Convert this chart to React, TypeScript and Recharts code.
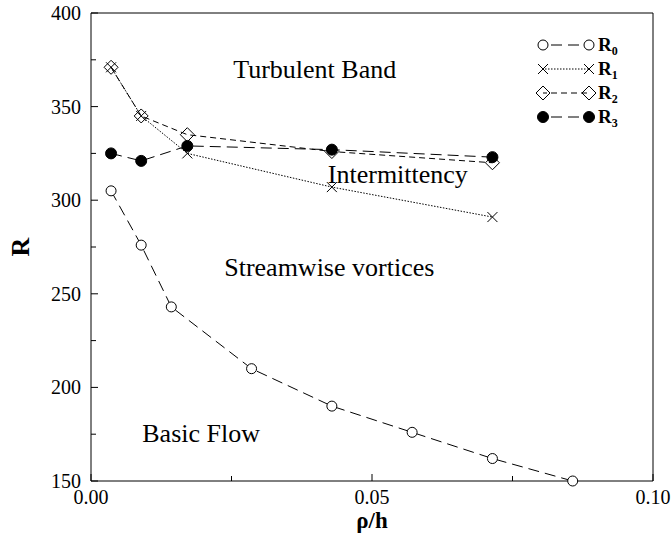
import { LineChart, Line, XAxis, YAxis, ReferenceDot } from 'recharts'

// rho/h positions of the computed cases
const xBase = [0.00357, 0.00893, 0.01429, 0.02857, 0.04286, 0.05714, 0.07143, 0.08571]
const xUpper = [0.00357, 0.00893, 0.01714, 0.04286, 0.07143]

const r0 = [305, 276, 243, 210, 190, 176, 162, 150]
const r1 = [371, 345, 325, 307, 291]
const r2 = [371, 345, 335, 326, 320]
const r3 = [325, 321, 329, 327, 323]

const xTicks = [0, 0.025, 0.05, 0.075, 0.1]
const xLabels: Record<number, string> = { 0: '0.00', 0.05: '0.05', 0.1: '0.10' }
const yTicks = [150, 175, 200, 225, 250, 275, 300, 325, 350, 375, 400]

const regions = [
  { text: 'Turbulent Band', x: 0.0398, y: 370 },
  { text: 'Intermittency', x: 0.0546, y: 314 },
  { text: 'Streamwise vortices', x: 0.0424, y: 264.5 },
  { text: 'Basic Flow', x: 0.0196, y: 175.5 },
]

const base = xBase.map((x, i) => ({ x, r0: r0[i] }))
const upper = xUpper.map((x, i) => ({ x, r1: r1[i], r2: r2[i], r3: r3[i] }))

const serif = '"Liberation Serif", "Times New Roman", serif'

const Circle = (p: any) => <circle cx={p.cx} cy={p.cy} r={5} fill="#fff" stroke="#000" strokeWidth={1} />
const Cross = (p: any) => (
  <path d={`M${p.cx - 5},${p.cy - 5}L${p.cx + 5},${p.cy + 5}M${p.cx - 5},${p.cy + 5}L${p.cx + 5},${p.cy - 5}`} stroke="#000" strokeWidth={1} />
)
const Diamond = (p: any) => (
  <path d={`M${p.cx},${p.cy - 7}L${p.cx + 7},${p.cy}L${p.cx},${p.cy + 7}L${p.cx - 7},${p.cy}Z`} fill="none" stroke="#000" strokeWidth={1} />
)
const Dot = (p: any) => <circle cx={p.cx} cy={p.cy} r={5.5} fill="#000" stroke="#000" />

const series = [
  { key: 'r0', sub: '0', dash: '11 6', Mark: Circle },
  { key: 'r1', sub: '1', dash: '1.5 1.5', Mark: Cross },
  { key: 'r2', sub: '2', dash: '6 4', Mark: Diamond },
  { key: 'r3', sub: '3', dash: '11 6', Mark: Dot },
]

function BottomTick({ x, y, payload }: any) {
  const label = xLabels[payload.value]
  return (
    <g>
      <line x1={x} y1={y} x2={x} y2={y - (label ? 7 : 5)} stroke="#000" />
      {label && (
        <text x={x} y={y + 23} textAnchor="middle" fontSize={20} fontFamily={serif} fill="#000">{label}</text>
      )}
    </g>
  )
}

function TopTick({ x, y, payload }: any) {
  const major = xLabels[payload.value] !== undefined
  return <line x1={x} y1={y} x2={x} y2={y + (major ? 7 : 5)} stroke="#000" />
}

function LeftTick({ x, y, payload }: any) {
  const major = payload.value % 50 === 0
  return (
    <g>
      <line x1={x} y1={y} x2={x + (major ? 7 : 5)} y2={y} stroke="#000" />
      {major && (
        <text x={x - 10} y={y + 7} textAnchor="end" fontSize={20} fontFamily={serif} fill="#000">{payload.value}</text>
      )}
    </g>
  )
}

function RightTick({ x, y, payload }: any) {
  const major = payload.value % 50 === 0
  return <line x1={x} y1={y} x2={x - (major ? 7 : 5)} y2={y} stroke="#000" />
}

function LegendBox() {
  return (
    <svg width={90} height={100} style={{ position: 'absolute', left: 535, top: 33 }}>
      {series.map((s, i) => {
        const cy = 12 + i * 24
        return (
          <g key={s.key}>
            <line x1={8} y1={cy} x2={54} y2={cy} stroke="#000" strokeDasharray={s.dash} strokeDashoffset={-8} />
            <s.Mark cx={8} cy={cy} />
            <s.Mark cx={54} cy={cy} />
            <text x={63} y={cy + 6} fontSize={19} fontWeight="bold" fontFamily={serif} fill="#000">
              R<tspan fontSize={12} dy={4}>{s.sub}</tspan>
            </text>
          </g>
        )
      })}
    </svg>
  )
}

export default function App() {
  return (
    <div style={{ position: 'absolute', left: 0, top: 0, width: 672, height: 541, background: '#fff' }}>
      <LineChart width={672} height={541} margin={{ top: 12, right: 18, left: 41, bottom: 30 }}>
        <XAxis
          xAxisId="b"
          type="number"
          dataKey="x"
          domain={[0, 0.1]}
          ticks={xTicks}
          tick={<BottomTick />}
          tickSize={0}
          tickMargin={0}
          height={30}
          stroke="#000"
          interval={0}
          allowDuplicatedCategory={false}
        />
        <XAxis
          xAxisId="t"
          orientation="top"
          type="number"
          dataKey="x"
          domain={[0, 0.1]}
          ticks={xTicks}
          tick={<TopTick />}
          tickSize={0}
          tickMargin={0}
          height={1}
          stroke="#000"
          interval={0}
        />
        <YAxis
          yAxisId="l"
          type="number"
          domain={[150, 400]}
          ticks={yTicks}
          tick={<LeftTick />}
          tickSize={0}
          tickMargin={0}
          width={50}
          stroke="#000"
          interval={0}
        />
        <YAxis
          yAxisId="r"
          orientation="right"
          type="number"
          domain={[150, 400]}
          ticks={yTicks}
          tick={<RightTick />}
          tickSize={0}
          tickMargin={0}
          width={1}
          stroke="#000"
          interval={0}
        />
        <Line data={base} xAxisId="b" yAxisId="l" dataKey="r0" stroke="#000" strokeWidth={1} strokeDasharray="11 6" dot={<Circle />} isAnimationActive={false} />
        <Line data={upper} xAxisId="b" yAxisId="l" dataKey="r1" stroke="#000" strokeWidth={1} strokeDasharray="1.5 1.5" dot={<Cross />} isAnimationActive={false} />
        <Line data={upper} xAxisId="b" yAxisId="l" dataKey="r2" stroke="#000" strokeWidth={1} strokeDasharray="6 4" dot={<Diamond />} isAnimationActive={false} />
        <Line data={upper} xAxisId="b" yAxisId="l" dataKey="r3" stroke="#000" strokeWidth={1} strokeDasharray="11 6" dot={<Dot />} isAnimationActive={false} />
        {regions.map((r) => (
          <ReferenceDot
            key={r.text}
            xAxisId="b"
            yAxisId="l"
            x={r.x}
            y={r.y}
            r={0}
            fill="none"
            stroke="none"
            label={{ value: r.text, position: 'center', fontSize: 26, fontFamily: serif, fill: '#000' }}
          />
        ))}
        <text x={20} y={247} transform="rotate(-90 20 247)" textAnchor="middle" dominantBaseline="central" fontSize={26} fontWeight="bold" fontFamily={serif} fill="#000">R</text>
        <text x={372} y={528} textAnchor="middle" fontSize={23} fontWeight="bold" fontFamily={serif} fill="#000">ρ/h</text>
      </LineChart>
      <LegendBox />
    </div>
  )
}
